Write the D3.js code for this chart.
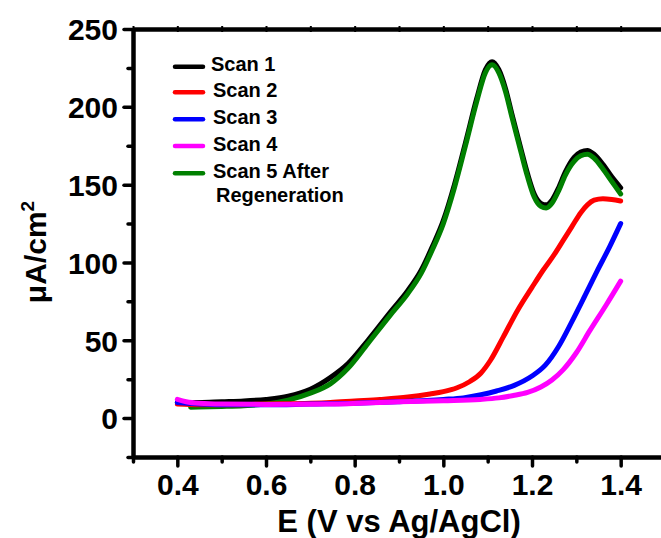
<!DOCTYPE html>
<html>
<head>
<meta charset="utf-8">
<script src="https://cdn.jsdelivr.net/npm/d3@7/dist/d3.min.js"></script>
<style>
  html, body { margin: 0; padding: 0; background: #fff; }
  svg { display: block; }
  text { font-family: "Liberation Sans", Arial, sans-serif; font-weight: bold; fill: #000; }
</style>
</head>
<body>
<svg id="chart" width="661" height="538"></svg>
<script>
// ---- data ----
const seriesNames = ["Scan 1", "Scan 2", "Scan 3", "Scan 4", "Scan 5 After"];
const legendExtra = "Regeneration";
const seriesColors = ["#000000", "#ff0000", "#0000ff", "#ff00ff", "#008000"];

const scan1 = [[0.40,10],[0.45,10],[0.50,10.5],[0.55,11],[0.60,12],[0.65,14],[0.70,18.5],[0.745,26],[0.785,35],[0.83,50],[0.88,68],[0.92,82],[0.95,95],[0.975,110],[1.00,127],[1.025,150],[1.05,177],[1.075,205],[1.095,224],[1.11,229],[1.125,224],[1.14,212],[1.155,195],[1.175,173],[1.19,157],[1.205,144],[1.22,138],[1.232,137],[1.245,140],[1.26,148],[1.275,158],[1.295,167.5],[1.31,171],[1.325,172],[1.34,169.5],[1.36,163],[1.38,155],[1.40,148]];
const scan2 = [[0.40,9],[0.45,8.5],[0.50,8.5],[0.60,9],[0.70,9.5],[0.745,10],[0.80,11],[0.857,12],[0.92,13.5],[0.97,15.5],[1.00,17],[1.031,19.5],[1.06,23.5],[1.085,29],[1.106,37],[1.135,52],[1.167,69],[1.20,84],[1.225,95],[1.25,105],[1.27,114],[1.29,123],[1.31,132],[1.325,137],[1.34,140],[1.36,141],[1.38,140.5],[1.40,139.5]];
const scan3 = [[0.40,10],[0.45,9],[0.50,8.5],[0.60,8.5],[0.70,9],[0.80,9.5],[0.896,10.5],[1.00,12],[1.045,13],[1.085,15],[1.12,17.4],[1.16,21],[1.20,27],[1.23,34],[1.26,46],[1.29,62],[1.32,79],[1.346,94],[1.375,110],[1.40,125]];
const scan4 = [[0.40,12],[0.42,10.5],[0.45,9.5],[0.50,9],[0.60,8.8],[0.745,9],[0.90,10.5],[1.00,11.2],[1.083,12],[1.125,13],[1.158,14.5],[1.19,16.5],[1.22,20],[1.245,24.5],[1.27,31],[1.30,42],[1.33,56],[1.368,73],[1.40,88]];
const scan5 = [[0.43,7],[0.50,7.5],[0.55,8],[0.60,9],[0.65,11.5],[0.70,16],[0.745,22],[0.785,32],[0.83,48],[0.88,66],[0.92,80],[0.95,93],[0.975,108],[1.00,125],[1.025,148],[1.05,175],[1.075,203],[1.095,222],[1.11,227],[1.125,222],[1.14,210],[1.155,193],[1.175,171],[1.19,155],[1.205,142],[1.22,136],[1.232,135],[1.245,138],[1.26,146],[1.275,156],[1.295,165],[1.31,168.5],[1.325,169.5],[1.34,167],[1.36,160],[1.38,152],[1.40,144]];

const xTickValues = [0.4, 0.6, 0.8, 1.0, 1.2, 1.4];
const xTickLabels = ["0.4", "0.6", "0.8", "1.0", "1.2", "1.4"];
const xMinorValues = [0.3, 0.5, 0.7, 0.9, 1.1, 1.3, 1.5];
const yTickValues = [0, 50, 100, 150, 200, 250];
const yMinorValues = [-25, 25, 75, 125, 175, 225];
const xTitle = "E (V vs Ag/AgCl)";
const yTitleMain = "\u03BCA/cm";
const yTitleSup = "2";

// ---- layout ----
const svg = d3.select("#chart");
const L = 133, R = 665, T = 29, B = 457;
const x = d3.scaleLinear().domain([0.3, 1.5]).range([L, R]);
const y = d3.scaleLinear().domain([-25, 250]).range([B, T]);

svg.append("rect").attr("width", 661).attr("height", 538).attr("fill", "#fff");

// ---- curves ----
const line = d3.line().x(d => x(d[0])).y(d => y(d[1])).curve(d3.curveMonotoneX);
const drawOrder = [
  [scan1, seriesColors[0]],
  [scan5, seriesColors[4]],
  [scan2, seriesColors[1]],
  [scan3, seriesColors[2]],
  [scan4, seriesColors[3]]
];
drawOrder.forEach(([data, color]) => {
  svg.append("path").datum(data).attr("d", line)
    .attr("fill", "none").attr("stroke", color).attr("stroke-width", 5)
    .attr("stroke-linecap", "round").attr("stroke-linejoin", "round");
});

// ---- axes ----
function styleAxis(g, w) {
  g.select(".domain").attr("stroke", "#000").attr("stroke-width", w);
  g.selectAll(".tick line").attr("stroke", "#000").attr("stroke-width", 3.5).attr("stroke-linecap", "round");
}
const gx = svg.append("g").attr("transform", `translate(0,${B})`)
  .call(d3.axisBottom(x).tickValues(xTickValues).tickSize(9).tickPadding(8)
    .tickFormat((d, i) => xTickLabels[i]).tickSizeOuter(0));
styleAxis(gx, 4.5);
gx.selectAll(".tick text").attr("font-size", 30).attr("font-family", "Liberation Sans, Arial, sans-serif").attr("font-weight", "bold").attr("dy", "0.71em");
const gxm = svg.append("g").attr("transform", `translate(0,${B})`)
  .call(d3.axisBottom(x).tickValues(xMinorValues).tickSize(5).tickFormat(""));
gxm.select(".domain").remove();
gxm.selectAll(".tick line").attr("stroke", "#000").attr("stroke-width", 3.5).attr("stroke-linecap", "round");

const gy = svg.append("g").attr("transform", `translate(${L},0)`)
  .call(d3.axisLeft(y).tickValues(yTickValues).tickSize(9).tickPadding(6).tickSizeOuter(0));
styleAxis(gy, 4.5);
gy.selectAll(".tick text").attr("font-size", 30).attr("font-family", "Liberation Sans, Arial, sans-serif").attr("font-weight", "bold").attr("dy", "0.36em");
const gym = svg.append("g").attr("transform", `translate(${L},0)`)
  .call(d3.axisLeft(y).tickValues(yMinorValues).tickSize(5).tickFormat(""));
gym.select(".domain").remove();
gym.selectAll(".tick line").attr("stroke", "#000").attr("stroke-width", 3.5).attr("stroke-linecap", "round");

const gt = svg.append("g").attr("transform", `translate(0,${T})`)
  .call(d3.axisTop(x).tickValues(d3.range(0.3, 1.55, 0.1)).tickSize(3).tickFormat("").tickSizeOuter(0));
gt.select(".domain").attr("stroke", "#000").attr("stroke-width", 4.5);
gt.selectAll(".tick line").attr("stroke", "#000").attr("stroke-width", 2).attr("y2", 3).attr("y1", -3);
svg.append("line").attr("x1", R).attr("x2", R).attr("y1", T).attr("y2", B)
  .attr("stroke", "#000").attr("stroke-width", 4.5);

// ---- titles ----
svg.append("text").attr("x", (L + R) / 2).attr("y", 532).attr("text-anchor", "middle")
  .attr("font-size", 31).text(xTitle);

const yt = svg.append("text").attr("transform", "translate(46,252) rotate(-90)")
  .attr("text-anchor", "middle").attr("font-size", 30);
yt.append("tspan").text(yTitleMain);
yt.append("tspan").attr("font-size", 19).attr("dy", -12).text(yTitleSup);

// ---- legend ----
const legendRowsY = [66.7, 92.3, 119.3, 146, 173.3];
const legendTextX = [211, 213, 213, 213, 213];
const lg = svg.append("g");
seriesNames.forEach((name, i) => {
  lg.append("line").attr("x1", 175).attr("x2", 203).attr("y1", legendRowsY[i]).attr("y2", legendRowsY[i])
    .attr("stroke", seriesColors[i]).attr("stroke-width", 4.5).attr("stroke-linecap", "round");
  lg.append("text").attr("x", legendTextX[i]).attr("y", legendRowsY[i] + 4.5)
    .attr("font-size", 20).text(name);
});
lg.append("text").attr("x", 216).attr("y", 201.7).attr("font-size", 20).text(legendExtra);
</script>
</body>
</html>
